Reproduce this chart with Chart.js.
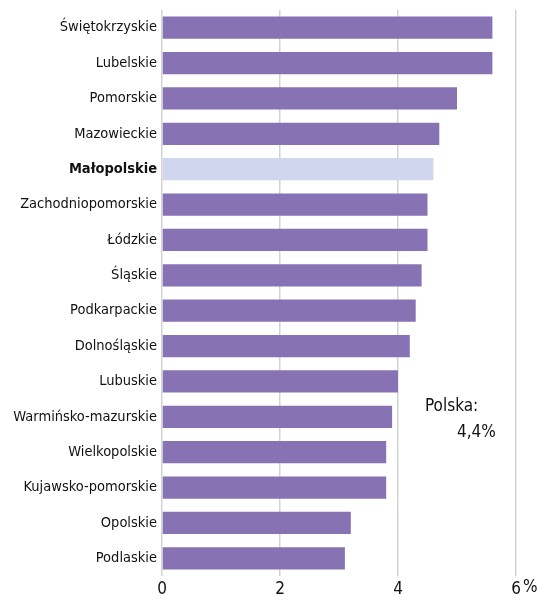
<!DOCTYPE html>
<html>
<head>
<meta charset="utf-8">
<script src="https://cdn.jsdelivr.net/npm/chart.js@4/dist/chart.umd.min.js"></script>
<style>
  html, body { margin: 0; padding: 0; background: #fff; }
  #wrap { width: 537px; height: 599px; }
</style>
</head>
<body>
<div id="wrap"><canvas id="chart" width="537" height="599"></canvas></div>
<script>
// data
const regions = ['Świętokrzyskie', 'Lubelskie', 'Pomorskie', 'Mazowieckie', 'Małopolskie',
  'Zachodniopomorskie', 'Łódzkie', 'Śląskie', 'Podkarpackie', 'Dolnośląskie', 'Lubuskie',
  'Warmińsko-mazurskie', 'Wielkopolskie', 'Kujawsko-pomorskie', 'Opolskie', 'Podlaskie'];
const values = [5.6, 5.6, 5.0, 4.7, 4.6, 4.5, 4.5, 4.4, 4.3, 4.2, 4.0, 3.9, 3.8, 3.8, 3.2, 3.1];
const highlighted = 'Małopolskie';
const xTicks = [0, 2, 4, 6];
const noteLines = ['Polska:', '4,4%'];

const FONT = '"Liberation Sans Narrow", "DejaVu Sans Condensed", sans-serif';
const BAR = '#8773b3';
const BAR_HL = '#d0d6ee';
const GRID = '#d3d3d3';

// national average note and the unit after the last tick
const notePlugin = {
  id: 'note',
  afterDraw(chart) {
    const ctx = chart.ctx;
    const x = chart.scales.x;
    ctx.save();
    ctx.font = '17px ' + FONT;
    ctx.fillStyle = '#111';
    ctx.textBaseline = 'middle';
    ctx.textAlign = 'left';
    ctx.fillText(noteLines[0], 425, 407);
    ctx.fillText(noteLines[1], 457, 433);
    ctx.fillText('%', x.getPixelForValue(6) + 7, 588);
    ctx.restore();
  }
};

const ctx = document.getElementById('chart').getContext('2d');
new Chart(ctx, {
  type: 'bar',
  data: {
    labels: regions,
    datasets: [{
      data: values,
      backgroundColor: regions.map(r => r === highlighted ? BAR_HL : BAR),
      borderWidth: 0,
      categoryPercentage: 1,
      barPercentage: 0.63
    }]
  },
  options: {
    indexAxis: 'y',
    responsive: false,
    animation: false,
    layout: { padding: { top: 10, right: 21, left: 0, bottom: 0 } },
    plugins: { legend: { display: false }, tooltip: { enabled: false } },
    scales: {
      x: {
        min: 0,
        max: 6,
        afterBuildTicks(scale) { scale.ticks = xTicks.map(v => ({ value: v })); },
        afterFit(scale) { scale.height = 23; },
        grid: { color: GRID, lineWidth: 1.5, drawTicks: false },
        border: { display: false },
        ticks: {
          padding: 3,
          color: '#111',
          font: { family: FONT, size: 17 }
        }
      },
      y: {
        afterFit(scale) {
          scale.width = 162;
          scale.paddingTop = 0;
          scale.paddingBottom = 0;
        },
        grid: { display: false, drawTicks: false },
        border: { display: false },
        ticks: {
          padding: 5,
          color: '#111',
          font: ctx => ({
            family: FONT,
            size: 14.5,
            weight: regions[ctx.index] === highlighted ? 'bold' : 'normal'
          })
        }
      }
    }
  },
  plugins: [notePlugin]
});
</script>
</body>
</html>
